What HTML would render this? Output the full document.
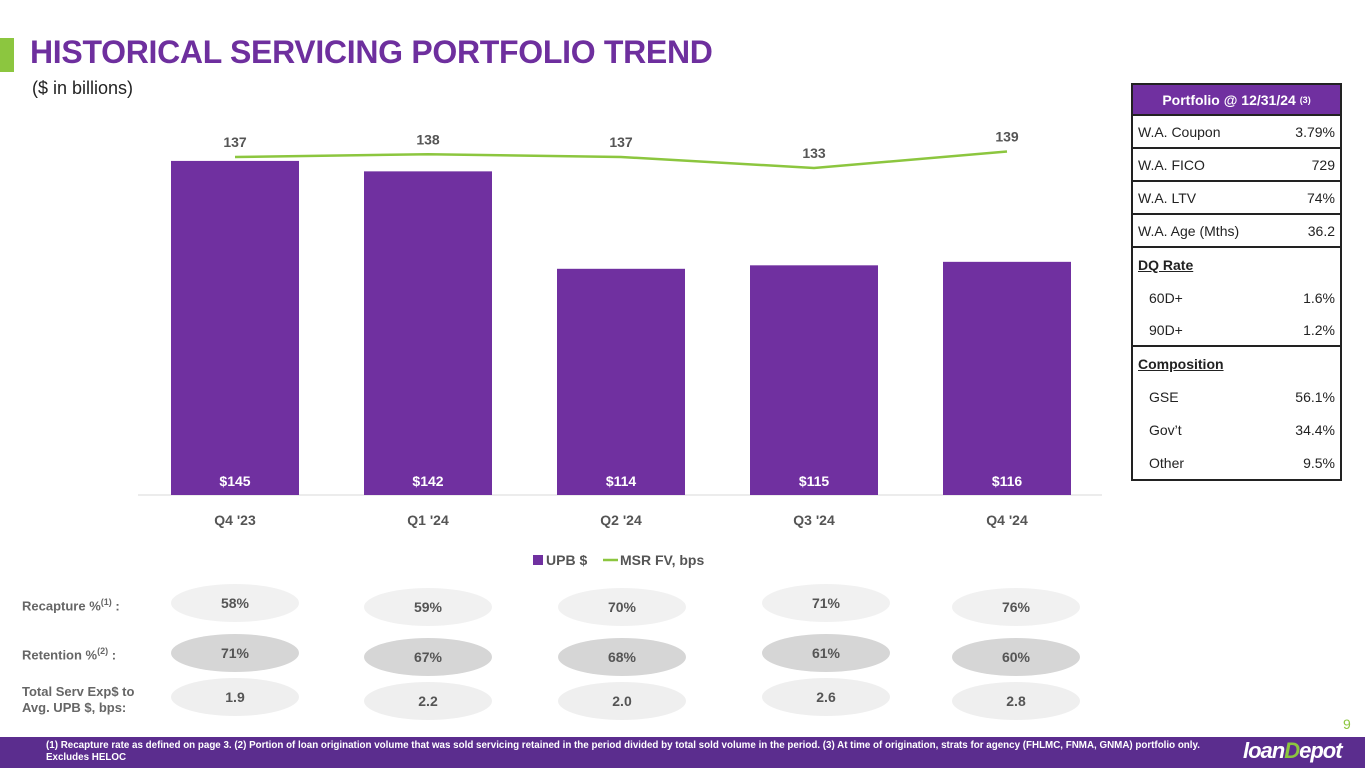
<!DOCTYPE html>
<html><head><meta charset="utf-8"><style>
body{margin:0;width:1365px;height:768px;overflow:hidden;background:#fff;font-family:"Liberation Sans",sans-serif;position:relative}
.abs{position:absolute}
#tbl{position:absolute;left:1131px;top:83px;width:211px;border:2px solid #222;box-sizing:border-box;font-size:14px;color:#222}
#tbl .r{height:33px;display:flex;justify-content:space-between;align-items:center;padding:0 5px;box-sizing:border-box}
#tbl .b{border-bottom:2px solid #222}
#tbl .in{padding-left:16px}
.ell{position:absolute;width:128px;height:38px;border-radius:50%;display:flex;align-items:center;justify-content:center;font-weight:bold;font-size:14px;color:#555}
.lbl{position:absolute;left:22px;font-weight:bold;font-size:13px;color:#666;line-height:16px}
</style></head><body>
<div class="abs" style="left:0;top:38px;width:14px;height:34px;background:#8cc63f"></div>
<div class="abs" style="left:30px;top:34px;font-size:32px;font-weight:900;color:#6e2f9e;letter-spacing:-0.3px">HISTORICAL SERVICING PORTFOLIO TREND</div>
<div class="abs" style="left:32px;top:78px;font-size:18px;color:#222">($ in billions)</div>
<svg class="abs" style="left:0;top:0" width="1120" height="580" id="chart"></svg>
<div id="tbl">
<div class="r b" style="height:31px;background:#7030a0;color:#fff;font-weight:bold;justify-content:center">Portfolio @ 12/31/24&nbsp;<sup style="font-size:9px">(3)</sup></div>
<div class="r b"><span>W.A. Coupon</span><span>3.79%</span></div>
<div class="r b"><span>W.A. FICO</span><span>729</span></div>
<div class="r b"><span>W.A. LTV</span><span>74%</span></div>
<div class="r b"><span>W.A. Age (Mths)</span><span>36.2</span></div>
<div class="r"><b><u>DQ Rate</u></b></div>
<div class="r in"><span>60D+</span><span>1.6%</span></div>
<div class="r in b"><span>90D+</span><span>1.2%</span></div>
<div class="r"><b><u>Composition</u></b></div>
<div class="r in"><span>GSE</span><span>56.1%</span></div>
<div class="r in"><span>Gov’t</span><span>34.4%</span></div>
<div class="r in"><span>Other</span><span>9.5%</span></div>
</div>
<div class="lbl" style="top:594px">Recapture %<sup style="font-size:9px">(1)</sup> :</div>
<div class="lbl" style="top:643px">Retention %<sup style="font-size:9px">(2)</sup> :</div>
<div class="lbl" style="top:684px">Total Serv Exp$ to<br>Avg. UPB $, bps:</div>
<div id="ells"></div>
<div class="abs" style="left:1343px;top:716px;color:#8cc63f;font-size:14px">9</div>
<div class="abs" style="left:0;top:737px;width:1365px;height:31px;background:#5b2d8e"></div>
<div class="abs" style="left:46px;top:740px;width:1175px;color:#fff;font-size:9.8px;font-weight:bold;line-height:12px">(1) Recapture rate as defined on page 3. (2) Portion of loan origination volume that was sold servicing retained in the period divided by total sold volume in the period. (3) At time of origination, strats for agency (FHLMC, FNMA, GNMA) portfolio only. Excludes HELOC</div>
<div class="abs" style="left:1243px;top:738px;color:#fff;font-size:22px;font-weight:bold;font-style:italic;letter-spacing:-1px">loan<span style="color:#8cc63f">D</span>epot</div>
<script>
const categories=["Q4 '23","Q1 '24","Q2 '24","Q3 '24","Q4 '24"];
const upb=[145,142,114,115,116];
const msr=[137,138,137,133,139];
const recapture=["58%","59%","70%","71%","76%"];
const retention=["71%","67%","68%","61%","60%"];
const servExp=["1.9","2.2","2.0","2.6","2.8"];
const NS="http://www.w3.org/2000/svg";
const svg=document.getElementById('chart');
const x=i=>235+i*193;
const yB=v=>495-(v-49)*3.48;
const yL=v=>157-(v-137)*2.75;
function el(t,a){const e=document.createElementNS(NS,t);for(const k in a)e.setAttribute(k,a[k]);svg.appendChild(e);return e;}
const ax=el('line',{x1:138,x2:1102,y1:495,y2:495,stroke:'#d9d9d9'});


upb.forEach((v,i)=>{
 const r=el('rect',{x:x(i)-64,y:yB(v),width:128,height:495-yB(v),fill:'#7030a0'});
 
 
 const t=el('text',{x:x(i),y:486,'text-anchor':'middle',fill:'#fff','font-size':14,'font-weight':'bold'});t.textContent='$'+v;
 
 
 const c=el('text',{x:x(i),y:525,'text-anchor':'middle',fill:'#555','font-size':14,'font-weight':'bold'});c.textContent=categories[i];
 
 
});
const ln=el('polyline',{points:msr.map((v,i)=>x(i)+','+yL(v)).join(' '),fill:'none',stroke:'#8cc63f','stroke-width':2.5});


msr.forEach((v,i)=>{const t=el('text',{x:x(i),y:yL(v)-10,'text-anchor':'middle',fill:'#555','font-size':14,'font-weight':'bold'});t.textContent=v;
 
 });
const lg1=el('rect',{x:533,y:555,width:10,height:10,fill:'#7030a0'});


const lt1=el('text',{x:546,y:565,fill:'#555','font-size':14,'font-weight':'bold'});lt1.textContent='UPB $';


const lg2=el('line',{x1:603,x2:618,y1:560,y2:560,stroke:'#8cc63f','stroke-width':2.5});


const lt2=el('text',{x:620,y:565,fill:'#555','font-size':14,'font-weight':'bold'});lt2.textContent='MSR FV, bps';


const ec=[235,428,622,826,1016];
const off=[-1,1,1,-1,1];
const wrap=document.getElementById('ells');
[[recapture,605,'#f1f1f1','recapture'],[retention,655,'#d6d6d6','retention'],[servExp,699,'#efefef','serv-exp']].forEach(([arr,cy,bg,nm])=>{
 arr.forEach((v,i)=>{const d=document.createElement('div');d.className='ell';d.style.left=(ec[i]-64)+'px';d.style.top=(cy-19+off[i]*2)+'px';d.style.background=bg;d.textContent=v;
 
 
 wrap.appendChild(d);});
});
</script>
</body></html>
